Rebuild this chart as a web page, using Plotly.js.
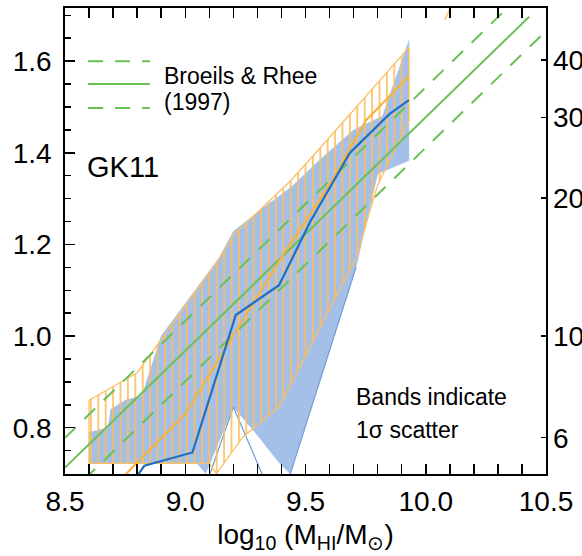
<!DOCTYPE html>
<html>
<head>
<meta charset="utf-8">
<script src="https://cdn.plot.ly/plotly-3.0.1.min.js"></script>
<style>html,body{margin:0;padding:0;background:#fff;}</style>
</head>
<body>
<div id="chart" style="width:582px;height:556px;"></div>
<script>
// ---- Data ----
// Blue model: 1-sigma band (upper / lower edges) and median
var blueUpX = [8.6, 8.68, 8.69, 8.75, 8.82, 8.9, 9.14, 9.2, 9.3, 9.44, 9.56, 9.7, 9.82, 9.93];
var blueUpY = [0.79, 0.80, 0.84, 0.86, 0.87, 1.0, 1.17, 1.228, 1.27, 1.325, 1.385, 1.45, 1.48, 1.645];
var blueLoX = [8.6, 9.05, 9.085, 9.2, 9.29, 9.39, 9.435, 9.71, 9.80, 9.93];
var blueLoY = [0.722, 0.722, 0.70, 0.845, 0.79, 0.724, 0.70, 1.15, 1.354, 1.383];
var blueMedX = [8.78, 8.83, 9.03, 9.21, 9.39, 9.52, 9.685, 9.85, 9.93];
var blueMedY = [0.68, 0.717, 0.746, 1.046, 1.111, 1.25, 1.40, 1.485, 1.515];
// thin blue edge lines of the band that run below the axis
var blueEdgeAX = [9.09, 9.2, 9.335];
var blueEdgeAY = [0.68, 0.845, 0.68];
var blueEdgeBX = [9.425, 9.71];
var blueEdgeBY = [0.68, 1.15];

// Orange model: 1-sigma band and median
var orangeUpX = [8.6, 8.8, 8.91, 9.14, 9.2, 9.44, 9.56, 9.93];
var orangeUpY = [0.86, 0.92, 1.0, 1.168, 1.22, 1.34, 1.41, 1.63];
var orangeLoX = [8.6, 9.1, 9.13, 9.24, 9.39, 9.71, 9.80, 9.93];
var orangeLoY = [0.722, 0.722, 0.70, 0.78, 0.845, 1.17, 1.33, 1.47];
var orangeMedX = [8.72, 8.81, 9.0, 9.14, 9.21, 9.41, 9.6, 9.75, 9.93];
var orangeMedY = [0.68, 0.73, 0.83, 0.948, 1.01, 1.18, 1.33, 1.47, 1.567];
var orangeStubX = [10.08, 10.12];
var orangeStubY = [1.69, 1.74];

// Broeils & Rhee (1997) relation and its scatter
var brX = [8.5, 10.43];
var brY = [0.713, 1.697];
var brUpX = [8.5, 10.5];
var brUpY = [0.778, 1.798];
var brLoX = [8.5, 10.5];
var brLoY = [0.646, 1.666];

// Axis tick labels
var xTicks = [8.5, 9.0, 9.5, 10.0, 10.5];
var xTickText = ['8.5', '9.0', '9.5', '10.0', '10.5'];
var rightTickVals = [6, 10, 20, 30, 40];

// ---- Styling ----
var FONT = 'Liberation Sans, Arial, Helvetica, sans-serif';
var BLUE_FILL = 'rgb(164,192,232)';
var BLUE_LINE = 'rgb(30,110,195)';
var BLUE_EDGE = 'rgb(110,155,215)';
var ORANGE = 'rgb(252,190,95)';
var ORANGE_LINE = 'rgb(248,178,60)';
var GREEN = 'rgb(105,192,85)';

function poly(ux, uy, lx, ly) {
  return {
    x: ux.concat(lx.slice().reverse()).concat([ux[0]]),
    y: uy.concat(ly.slice().reverse()).concat([uy[0]])
  };
}
var bp = poly(blueUpX, blueUpY, blueLoX, blueLoY);
var op = poly(orangeUpX, orangeUpY, orangeLoX, orangeLoY);

var traces = [
  {x: bp.x, y: bp.y, mode: 'lines', fill: 'toself', fillcolor: BLUE_FILL,
   line: {width: 0.5, color: BLUE_FILL}, hoverinfo: 'skip', showlegend: false},
  {x: blueEdgeAX, y: blueEdgeAY, mode: 'lines', line: {color: BLUE_EDGE, width: 1.2}, showlegend: false},
  {x: blueEdgeBX, y: blueEdgeBY, mode: 'lines', line: {color: BLUE_EDGE, width: 1.2}, showlegend: false},
  {x: op.x, y: op.y, mode: 'lines', fill: 'toself', fillcolor: ORANGE,
   fillpattern: {shape: '|', size: 7.4, solidity: 0.22, fgcolor: ORANGE, bgcolor: 'rgba(0,0,0,0)'},
   line: {width: 1.3, color: ORANGE}, hoverinfo: 'skip', showlegend: false},
  {x: orangeStubX, y: orangeStubY, mode: 'lines', line: {color: ORANGE, width: 1.3}, showlegend: false},
  {x: brUpX, y: brUpY, mode: 'lines', line: {color: GREEN, width: 2, dash: '15px,12px'}, showlegend: false},
  {x: brLoX, y: brLoY, mode: 'lines', line: {color: GREEN, width: 2, dash: '15px,12px'}, showlegend: false},
  {x: brX, y: brY, mode: 'lines', line: {color: GREEN, width: 2}, showlegend: false},
  {x: orangeMedX, y: orangeMedY, mode: 'lines', line: {color: ORANGE_LINE, width: 2}, showlegend: false},
  {x: blueMedX, y: blueMedY, mode: 'lines', line: {color: BLUE_LINE, width: 2.2}, showlegend: false},
  {x: [9.0], y: [1.0], yaxis: 'y2', mode: 'markers', marker: {opacity: 0}, hoverinfo: 'skip', showlegend: false}
];

var yRange = [0.699, 1.716];

var layout = {
  width: 582, height: 556,
  margin: {l: 65, r: 36, t: 8, b: 82},
  paper_bgcolor: '#fff', plot_bgcolor: '#fff',
  font: {family: FONT, size: 28, color: '#000'},
  showlegend: false,
  xaxis: {
    range: [8.5, 10.5], tickvals: xTicks, ticktext: xTickText,
    ticks: 'inside', ticklen: 10, tickwidth: 1.5, tickcolor: '#000',
    minor: {dtick: 0.1, tick0: 8.5, ticks: 'inside', ticklen: 6, tickwidth: 1.5, tickcolor: '#000'},
    showline: true, linewidth: 1.8, linecolor: '#000', mirror: 'allticks',
    showgrid: false, zeroline: false, ticklabelstandoff: 2,
    tickfont: {family: FONT, size: 28, color: '#000'},
    title: {text: 'log<sub>10</sub> (M<sub>HI</sub>/M<sub>⊙</sub>)', font: {family: FONT, size: 28, color: '#000'}, standoff: 8},
    automargin: false
  },
  yaxis: {
    range: yRange, tick0: 0, dtick: 0.2, tickformat: '.1f',
    ticks: 'inside', ticklen: 10, tickwidth: 1.5, tickcolor: '#000',
    minor: {dtick: 0.05, tick0: 0, ticks: 'inside', ticklen: 6, tickwidth: 1.5, tickcolor: '#000'},
    showline: true, linewidth: 1.8, linecolor: '#000', mirror: true,
    showgrid: false, zeroline: false, ticklabelstandoff: 6,
    tickfont: {family: FONT, size: 28, color: '#000'},
    automargin: false
  },
  yaxis2: {
    overlaying: 'y', side: 'right', range: yRange,
    tickvals: rightTickVals.map(function (v) { return Math.log10(v); }),
    ticktext: rightTickVals.map(String),
    ticks: 'inside', ticklen: 5, tickwidth: 1.5, tickcolor: '#000',
    showline: false, showgrid: false, zeroline: false, ticklabelstandoff: 6,
    tickfont: {family: FONT, size: 28, color: '#000'},
    automargin: false
  },
  shapes: [
    {type: 'line', xref: 'x', yref: 'y', x0: 8.596, x1: 8.853, y0: 1.6, y1: 1.6,
     line: {color: GREEN, width: 2, dash: '15px,12px'}},
    {type: 'line', xref: 'x', yref: 'y', x0: 8.596, x1: 8.853, y0: 1.55, y1: 1.55,
     line: {color: GREEN, width: 2}},
    {type: 'line', xref: 'x', yref: 'y', x0: 8.596, x1: 8.853, y0: 1.498, y1: 1.498,
     line: {color: GREEN, width: 2, dash: '15px,12px'}}
  ],
  annotations: [
    {text: 'Broeils & Rhee', x: 8.903, y: 1.567, xref: 'x', yref: 'y', xanchor: 'left', yanchor: 'middle',
     showarrow: false, font: {family: FONT, size: 23, color: '#000'}},
    {text: '(1997)', x: 8.903, y: 1.510, xref: 'x', yref: 'y', xanchor: 'left', yanchor: 'middle',
     showarrow: false, font: {family: FONT, size: 23, color: '#000'}},
    {text: 'GK11', x: 8.583, y: 1.37, xref: 'x', yref: 'y', xanchor: 'left', yanchor: 'middle',
     showarrow: false, font: {family: FONT, size: 29, color: '#000'}},
    {text: 'Bands indicate', x: 9.70, y: 0.867, xref: 'x', yref: 'y', xanchor: 'left', yanchor: 'middle',
     showarrow: false, font: {family: FONT, size: 23, color: '#000'}},
    {text: '1σ scatter', x: 9.70, y: 0.796, xref: 'x', yref: 'y', xanchor: 'left', yanchor: 'middle',
     showarrow: false, font: {family: FONT, size: 23, color: '#000'}}
  ]
};

Plotly.newPlot('chart', traces, layout, {staticPlot: true, displayModeBar: false});
</script>
</body>
</html>
